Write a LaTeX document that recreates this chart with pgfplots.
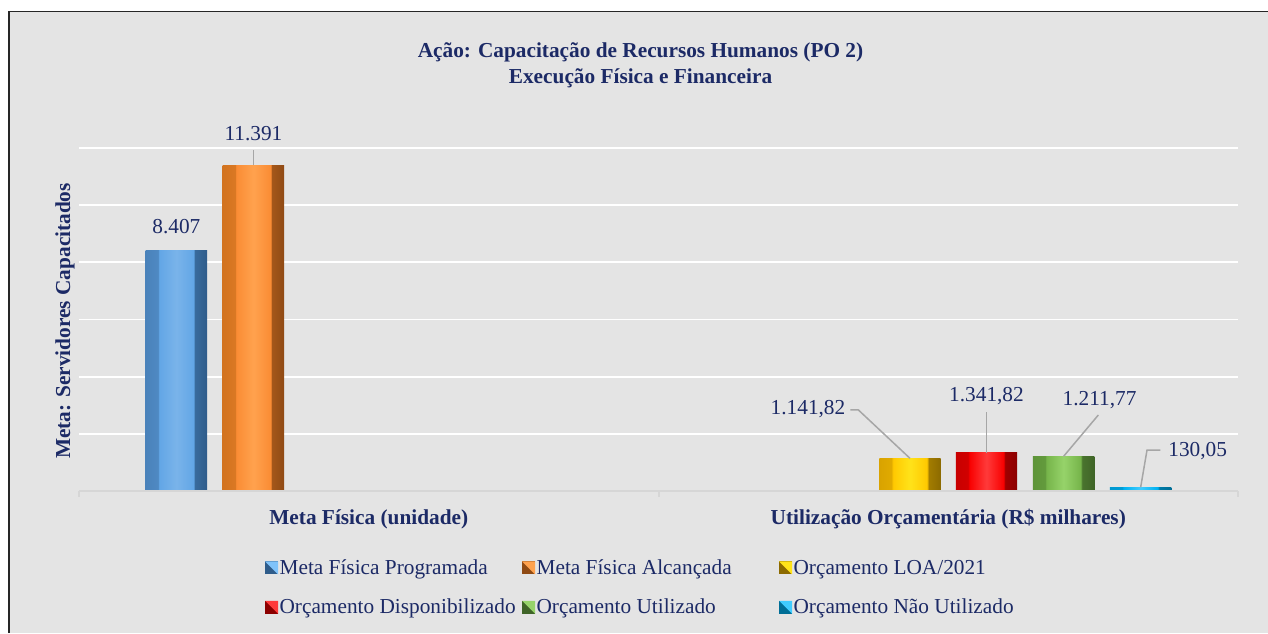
\documentclass[border=0pt]{standalone}
\usepackage{fontspec}
\setmainfont{Liberation Serif}
\usepackage{pgfplots}
\pgfplotsset{compat=1.18}
\definecolor{bg}{HTML}{E4E4E4}
\definecolor{navy}{HTML}{1C2A66}
\definecolor{lead}{HTML}{A6A6A6}
\definecolor{axgray}{HTML}{D6D6D6}
\definecolor{bF}{HTML}{62A6E6}\definecolor{bT}{HTML}{80C3FA}\definecolor{bL}{HTML}{4A82BA}\definecolor{bR}{HTML}{2F5C8A}
\definecolor{oF}{HTML}{FA8C34}\definecolor{oT}{HTML}{FFA24E}\definecolor{oL}{HTML}{D2731F}\definecolor{oR}{HTML}{8F4A14}
\definecolor{yF}{HTML}{FFC800}\definecolor{yT}{HTML}{FFE31A}\definecolor{yL}{HTML}{D9A300}\definecolor{yR}{HTML}{8C6A00}
\definecolor{rF}{HTML}{F80000}\definecolor{rT}{HTML}{FF3A3A}\definecolor{rL}{HTML}{C80000}\definecolor{rR}{HTML}{8B0000}
\definecolor{gF}{HTML}{76B44A}\definecolor{gT}{HTML}{96D36A}\definecolor{gL}{HTML}{5E9439}\definecolor{gR}{HTML}{3F6427}
\definecolor{cF}{HTML}{00B0F0}\definecolor{cT}{HTML}{40CCFF}\definecolor{cL}{HTML}{0098D0}\definecolor{cR}{HTML}{006E96}
\pgfdeclarehorizontalshading{shb}{100bp}{color(0bp)=(bL); color(25bp)=(bL); color(35bp)=(bL!80!bF); color(36bp)=(bF); color(50bp)=(bF!85!white); color(64bp)=(bF); color(65bp)=(bR!80!bF); color(75bp)=(bR); color(100bp)=(bR)}
\pgfdeclarehorizontalshading{sho}{100bp}{color(0bp)=(oL); color(25bp)=(oL); color(35bp)=(oL!80!oF); color(36bp)=(oF); color(50bp)=(oT); color(64bp)=(oF); color(65bp)=(oR!80!oF); color(75bp)=(oR); color(100bp)=(oR)}
\pgfdeclarehorizontalshading{shy}{100bp}{color(0bp)=(yL); color(25bp)=(yL); color(35bp)=(yL!80!yF); color(36bp)=(yF); color(50bp)=(yT); color(64bp)=(yF); color(65bp)=(yR!80!yF); color(75bp)=(yR); color(100bp)=(yR)}
\pgfdeclarehorizontalshading{shr}{100bp}{color(0bp)=(rL); color(25bp)=(rL); color(35bp)=(rL!80!rF); color(36bp)=(rF); color(50bp)=(rT); color(64bp)=(rF); color(65bp)=(rR!80!rF); color(75bp)=(rR); color(100bp)=(rR)}
\pgfdeclarehorizontalshading{shg}{100bp}{color(0bp)=(gL); color(25bp)=(gL); color(35bp)=(gL!80!gF); color(36bp)=(gF); color(50bp)=(gT); color(64bp)=(gF); color(65bp)=(gR!80!gF); color(75bp)=(gR); color(100bp)=(gR)}
\pgfdeclarehorizontalshading{shc}{100bp}{color(0bp)=(cL); color(25bp)=(cL); color(35bp)=(cL!80!cF); color(36bp)=(cF); color(50bp)=(cT); color(64bp)=(cF); color(65bp)=(cR!80!cF); color(75bp)=(cR); color(100bp)=(cR)}
\newcommand{\fs}{\fontsize{21.3}{25.5}\selectfont}
\pgfplotsset{
  bev/.style={draw=none, shade, shading=#1},
  legsq/.style 2 args={legend image code/.code={
    \pgfsetfillcolor{#1}\pgfpathrectangle{\pgfpoint{0pt}{-6.5pt}}{\pgfpoint{13pt}{13pt}}\pgfusepath{fill}
    \pgfsetfillcolor{#2}\pgfpathmoveto{\pgfpoint{0pt}{6.5pt}}\pgfpathlineto{\pgfpoint{13pt}{6.5pt}}\pgfpathlineto{\pgfpoint{13pt}{-6.5pt}}\pgfpathclose\pgfusepath{fill}}},
  physlbl/.style={point meta=y, nodes near coords={\pgfmathprintnumber[fixed,precision=0,1000 sep={.},assume math mode=true]{\pgfplotspointmeta}}},
  finlbl/.style={point meta=y, nodes near coords={\pgfmathprintnumber[fixed,fixed zerofill,precision=2,use comma,1000 sep={.},assume math mode=true]{\pgfplotspointmeta}}},
}
\begin{document}
\begin{tikzpicture}[x=1pt,y=1pt]
\useasboundingbox (0,0) rectangle (1268,633);
\fill[white] (0,0) rectangle (1268,633);
\fill[bg] (8,0) rectangle (1268,621.5);
\draw[line width=1.6pt, black!85] (8.8,0) -- (8.8,621.5) -- (1268,621.5);
\node[font=\fs\bfseries, text=navy, anchor=base] at (640.5,575) {Ação: Capacitação de Recursos Humanos (PO 2)};
\node[font=\fs\bfseries, text=navy, anchor=base] at (640.5,549) {Execução Física e Financeira};
\node[font=\fs\bfseries, text=navy, anchor=base, rotate=90] at (70,312) {Meta: Servidores Capacitados};
\begin{axis}[
  at={(79pt,142pt)}, anchor=south west,
  width=1159pt, height=343pt, scale only axis,
  xmin=-0.5, xmax=1.5, ymin=0, ymax=12000,
  axis line style={draw=none},
  scaled y ticks=false,
  ytick={0,2000,...,12000}, yticklabels={},
  ymajorgrids, major grid style={white, line width=1.8pt},
  major tick length=0pt,
  xtick={0,1},
  xticklabels={Meta Física (unidade), Utilização Orçamentária (R\$ milhares)},
  xticklabel style={font=\fs\bfseries, text=navy, anchor=base, yshift=-33pt},
  clip=false,
  every node near coord/.append style={font=\fs, text=navy, anchor=center},
  legend columns=3,
  legend cell align=left,
  legend style={at={(0.1604,-0.20)}, anchor=north west, draw=none, fill=none,
    font=\fs, text=navy, column sep=0pt, row sep=23pt, inner sep=0pt,
    nodes={inner xsep=1.5pt, inner ysep=0pt}},
]
\addplot[ybar, bar width=0.106, bar shift=0pt, bev=shb, legsq={bR}{bT},
  physlbl, nodes near coords style={yshift=24pt}] coordinates {(-0.332,8407)};
\addlegendentry{\makebox[241pt][l]{Meta Física Programada}}
\addplot[ybar, bar width=0.106, bar shift=0pt, bev=sho, legsq={oR}{oT},
  physlbl, nodes near coords style={yshift=32pt}] coordinates {(-0.199,11391)};
\addlegendentry{\makebox[241pt][l]{Meta Física Alcançada}}
\addplot[ybar, bar width=0.106, bar shift=0pt, bev=shy, legsq={yR}{yT},
  finlbl, nodes near coords style={xshift=-102pt, yshift=49pt}] coordinates {(0.934,1141.82)};
\addlegendentry{\makebox[241pt][l]{Orçamento LOA/2021}}
\addplot[ybar, bar width=0.106, bar shift=0pt, bev=shr, legsq={rR}{rT},
  finlbl, nodes near coords style={yshift=57pt}] coordinates {(1.066,1341.82)};
\addlegendentry{\makebox[241pt][l]{Orçamento Disponibilizado}}
\addplot[ybar, bar width=0.106, bar shift=0pt, bev=shg, legsq={gR}{gT},
  finlbl, nodes near coords style={xshift=36pt, yshift=56pt}] coordinates {(1.199,1211.77)};
\addlegendentry{\makebox[241pt][l]{Orçamento Utilizado}}
\addplot[ybar, bar width=0.106, bar shift=0pt, bev=shc, legsq={cR}{cT},
  finlbl, nodes near coords style={xshift=57pt, yshift=36pt}] coordinates {(1.332,130.05)};
\addlegendentry{\makebox[241pt][l]{Orçamento Não Utilizado}}
% axis line and separators
\draw[axgray, line width=2pt] (axis cs:-0.5,0) -- (axis cs:1.5,0);
\draw[axgray, line width=2pt] (axis cs:-0.5,0) -- ([yshift=-6pt]axis cs:-0.5,0);
\draw[axgray, line width=2pt] (axis cs:0.5,0) -- ([yshift=-6pt]axis cs:0.5,0);
\draw[axgray, line width=2pt] (axis cs:1.5,0) -- ([yshift=-6pt]axis cs:1.5,0);
% leader lines
\draw[lead, line width=1.5pt] (axis cs:-0.199,11391) -- (axis cs:-0.199,11930);
\draw[lead, line width=1.5pt] (axis cs:0.934,1141.82) -- (axis cs:0.845,2834) -- (axis cs:0.831,2834);
\draw[lead, line width=1.5pt] (axis cs:1.066,1341.82) -- (axis cs:1.066,2764);
\draw[lead, line width=1.5pt] (axis cs:1.199,1211.77) -- (axis cs:1.259,2659);
\draw[lead, line width=1.5pt] (axis cs:1.332,130.05) -- (axis cs:1.343,1434) -- (axis cs:1.366,1434);
\end{axis}
\end{tikzpicture}
\end{document}
